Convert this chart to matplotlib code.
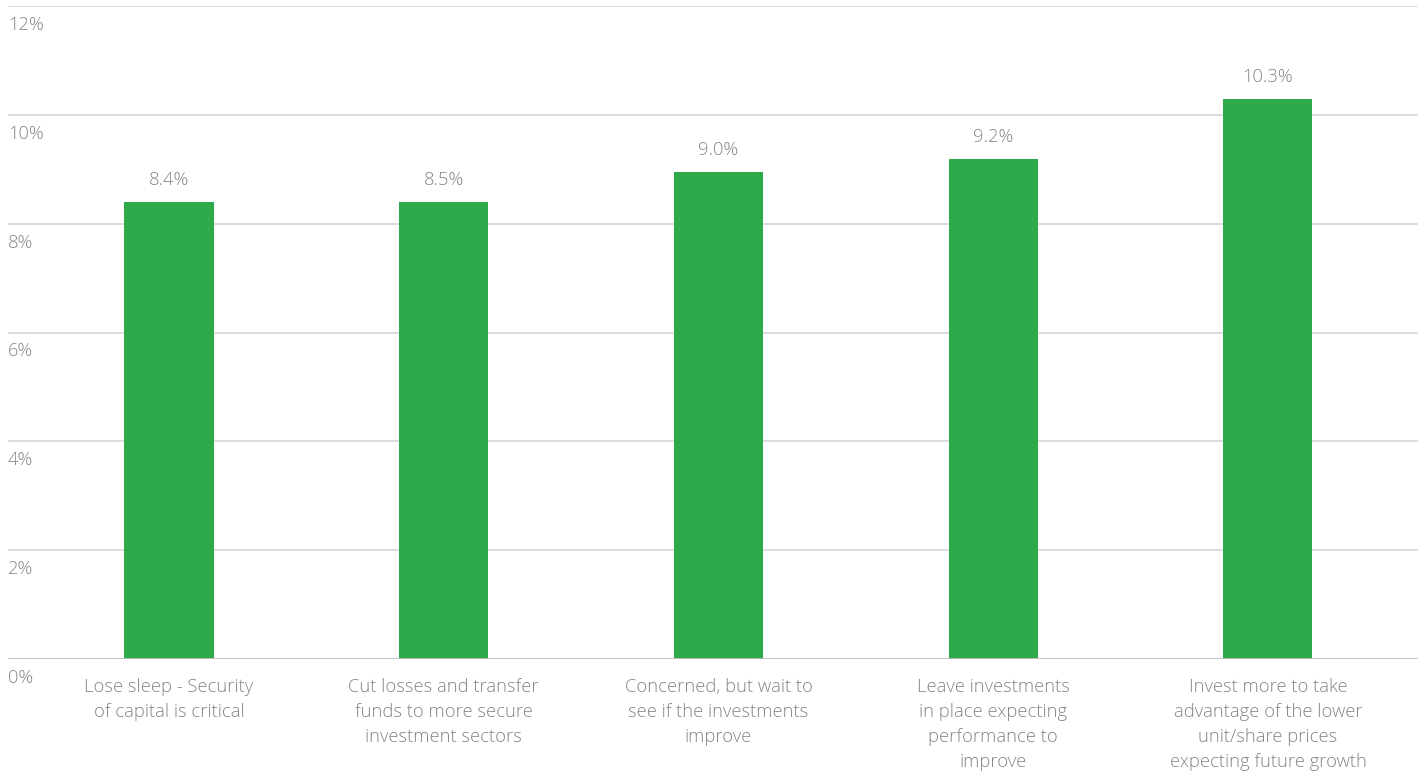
import matplotlib
matplotlib.use("Agg")
import matplotlib.pyplot as plt

plt.rcParams['font.family'] = ['Open Sans', 'DejaVu Sans']

categories = [
    "Lose sleep - Security\nof capital is critical",
    "Cut losses and transfer\nfunds to more secure\ninvestment sectors",
    "Concerned, but wait to\nsee if the investments\nimprove",
    "Leave investments\nin place expecting\nperformance to\nimprove",
    "Invest more to take\nadvantage of the lower\nunit/share prices\nexpecting future growth",
]
values = [8.4, 8.4, 8.95, 9.18, 10.3]
value_labels = ["8.4%", "8.5%", "9.0%", "9.2%", "10.3%"]
y_ticks = [0, 2, 4, 6, 8, 10, 12]

grey = '#858585'
green = '#2eaa4a'

fig = plt.figure(figsize=(14.18, 7.71), dpi=100)
ax = fig.add_axes([8 / 1418, 112 / 771, 1410 / 1418, 653 / 771])

x = list(range(len(values)))
ax.bar(x, values, width=0.324, color=green, zorder=3)
ax.set_xlim(-0.586, 4.546)
ax.set_ylim(0, 12)

for t in y_ticks:
    ax.axhline(t, color='#bfbfbf' if t == 0 else '#d9d9d9', lw=1.3, zorder=4 if t == 0 else 1)
    ax.annotate(f"{t}%", xy=(0, t), xycoords=('axes fraction', 'data'),
                xytext=(0, -10), textcoords='offset pixels',
                ha='left', va='top', fontsize=13.2, color=grey, fontweight='light')

for xi, v, lab in zip(x, values, value_labels):
    ax.annotate(lab, xy=(xi, v), xytext=(0, 13), textcoords='offset pixels',
                ha='center', va='bottom', fontsize=13.2, color=grey, fontweight='light')

for xi, c in zip(x, categories):
    ax.annotate(c, xy=(xi, 0), xytext=(0, -19), textcoords='offset pixels',
                ha='center', va='top', fontsize=13.2, color=grey, fontweight='light',
                linespacing=1.5, annotation_clip=False)

ax.set_xticks([])
ax.set_yticks([])
for s in ax.spines.values():
    s.set_visible(False)

fig.savefig('out.png', dpi=100)
